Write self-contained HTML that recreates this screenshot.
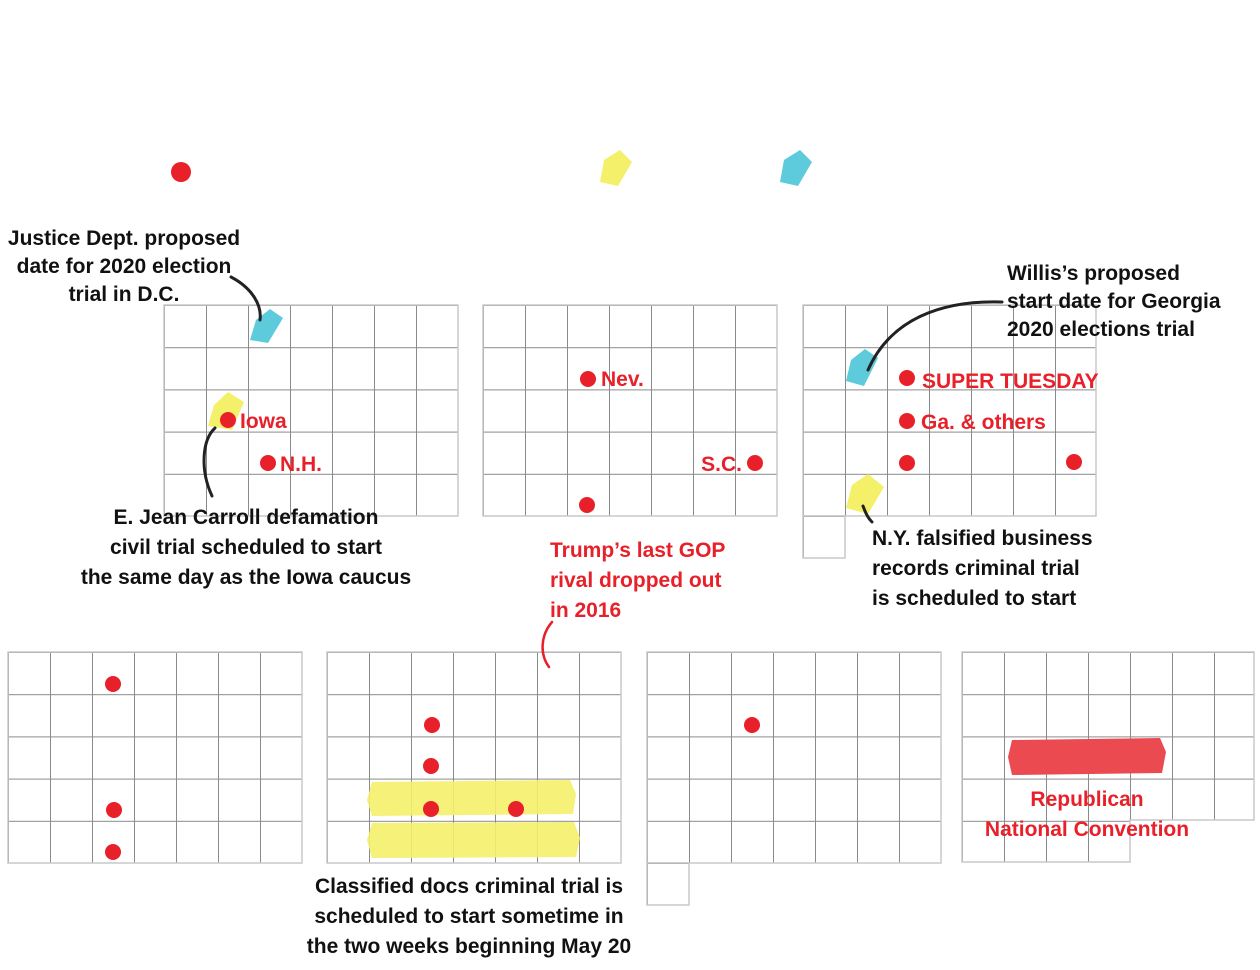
<!DOCTYPE html>
<html><head><meta charset="utf-8"><style>
html,body{margin:0;padding:0;background:#fff;}
svg{display:block;}
text{font-family:"Liberation Sans Narrow","Liberation Sans",sans-serif;font-size:21px;font-weight:bold;}
.k{fill:#111;}
.r{fill:#e8202a;}
</style></head><body>
<svg width="1260" height="970" viewBox="0 0 1260 970" xmlns="http://www.w3.org/2000/svg">
<defs>
<pattern id="g" patternUnits="userSpaceOnUse" width="42" height="42.2">
<path d="M0 0.5 H42 M0.5 0 V42.2" stroke="#8a8a8a" stroke-width="1" fill="none"/>
</pattern>
</defs>
<g fill="url(#g)" stroke="#c8c8c8" stroke-width="1.5">
<g transform="translate(164,305)"><rect width="294" height="211"/></g>
<g transform="translate(483,305)"><rect width="294" height="211"/></g>
<g transform="translate(803,305)"><rect width="293" height="211"/><rect x="0" y="211" width="42" height="42"/></g>
<g transform="translate(8,652)"><rect width="294" height="211"/></g>
<g transform="translate(327,652)"><rect width="294" height="211"/></g>
<g transform="translate(647,652)"><rect width="294" height="211"/><rect x="0" y="211" width="42" height="42"/></g>
<g transform="translate(962,652)"><path d="M0 0 H292 V168 H168 V210 H0 Z"/></g>
</g>

<g>
<path d="M604 160 L620 150 L632 162 L618 186 L600 182 Z" fill="#f4f06a"/>
<path d="M784 160 L800 150 L812 162 L798 186 L780 182 Z" fill="#5ecbdc"/>
<path d="M256 320 L270 309 L283 318 L268 343 L250 340 Z" fill="#5ecbdc"/>
<path d="M214 405 L228 392 L244 402 L232 430 L208 426 Z" fill="#f4f06a"/>
<path d="M851 360 L865 349 L878 358 L864 386 L846 381 Z" fill="#5ecbdc"/>
<path d="M852 485 L868 474 L884 487 L868 514 L846 508 Z" fill="#f4f06a"/>
<path d="M372 782 L570 780 L576 794 L573 814 L372 816 L367 800 Z" fill="#f4f06a" opacity="0.9"/>
<path d="M372 823 L574 822 L580 838 L576 857 L372 858 L367 840 Z" fill="#f4f06a" opacity="0.9"/>
<path d="M1012 740 L1160 738 L1166 752 L1162 773 L1012 775 L1008 757 Z" fill="#ea4a50"/>
</g>

<g fill="none" stroke="#222" stroke-width="3" stroke-linecap="round">
<path d="M231 277 C252 288 262 305 260 320"/>
<path d="M212 496 C200 470 202 440 215 428"/>
<path d="M1002 302 C940 300 890 320 868 370"/>
<path d="M863 506 C866 514 868 518 872 522"/>
</g>
<path d="M552 622 C540 636 540 655 549 667" fill="none" stroke="#e8202a" stroke-width="2.5" stroke-linecap="round"/>

<g fill="#e8202a">
<circle cx="181" cy="172" r="10"/>
<circle cx="228" cy="420" r="8"/>
<circle cx="268" cy="463" r="8"/>
<circle cx="588" cy="379" r="8"/>
<circle cx="755" cy="463" r="8"/>
<circle cx="587" cy="505" r="8"/>
<circle cx="907" cy="378" r="8"/>
<circle cx="907" cy="421" r="8"/>
<circle cx="907" cy="463" r="8"/>
<circle cx="1074" cy="462" r="8"/>
<circle cx="113" cy="684" r="8"/>
<circle cx="114" cy="810" r="8"/>
<circle cx="113" cy="852" r="8"/>
<circle cx="432" cy="725" r="8"/>
<circle cx="431" cy="766" r="8"/>
<circle cx="431" cy="809" r="8"/>
<circle cx="516" cy="809" r="8"/>
<circle cx="752" cy="725" r="8"/>
</g>

<g class="k" text-anchor="middle">
<text x="124" y="245">Justice Dept. proposed</text>
<text x="124" y="273">date for 2020 election</text>
<text x="124" y="301">trial in D.C.</text>
<text x="246" y="524">E. Jean Carroll defamation</text>
<text x="246" y="554">civil trial scheduled to start</text>
<text x="246" y="584">the same day as the Iowa caucus</text>
<text x="469" y="893">Classified docs criminal trial is</text>
<text x="469" y="923">scheduled to start sometime in</text>
<text x="469" y="953">the two weeks beginning May 20</text>
</g>
<g class="k">
<text x="1007" y="280">Willis’s proposed</text>
<text x="1007" y="308">start date for Georgia</text>
<text x="1007" y="336">2020 elections trial</text>
<text x="872" y="545">N.Y. falsified business</text>
<text x="872" y="575">records criminal trial</text>
<text x="872" y="605">is scheduled to start</text>
</g>
<g class="r">
<text x="240" y="428">Iowa</text>
<text x="280" y="471">N.H.</text>
<text x="601" y="386">Nev.</text>
<text x="742" y="471" text-anchor="end">S.C.</text>
<text x="922" y="388">SUPER TUESDAY</text>
<text x="921" y="429">Ga. &amp; others</text>
<text x="550" y="557">Trump’s last GOP</text>
<text x="550" y="587">rival dropped out</text>
<text x="550" y="617">in 2016</text>
<text x="1087" y="806" text-anchor="middle">Republican</text>
<text x="1087" y="836" text-anchor="middle">National Convention</text>
</g>
</svg>
</body></html>
